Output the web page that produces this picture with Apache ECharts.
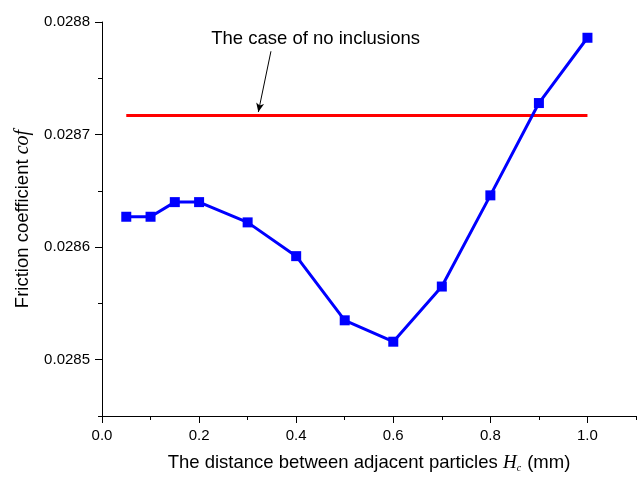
<!DOCTYPE html>
<html>
<head>
<meta charset="utf-8">
<script src="https://cdn.jsdelivr.net/npm/echarts@6/dist/echarts.min.js"></script>
<style>
html, body { margin: 0; padding: 0; background: #fff; }
#chart { width: 642px; height: 478px; }
</style>
</head>
<body>
<div id="chart"></div>
<script>
// Spacing between adjacent particles (mm) and the resulting friction coefficient
const distance = [0.05, 0.1, 0.15, 0.2, 0.3, 0.4, 0.5, 0.6, 0.7, 0.8, 0.9, 1.0];
const friction = [0.028627, 0.028627, 0.028640, 0.028640, 0.028622, 0.028592,
                  0.028535, 0.028516, 0.028565, 0.028646, 0.028728, 0.028786];

// Reference level: the same surface without inclusions
const noInclusionCof = 0.028717;
const noInclusionSpan = [0.05, 1.0];
const noInclusionText = 'The case of no inclusions';

// Tick positions
const xMajorTicks = [0, 0.2, 0.4, 0.6, 0.8, 1.0];
const xMinorTicks = [0.1, 0.3, 0.5, 0.7, 0.9, 1.1];
const yMajorTicks = [0.0285, 0.0286, 0.0287, 0.0288];
const yMinorTicks = [0.02845, 0.02855, 0.02865, 0.02875];

const FONT = '"Liberation Sans", Arial, sans-serif';
const SERIF = '"Liberation Serif", "Times New Roman", serif';
const INK = '#000';

const chart = echarts.init(document.getElementById('chart'), null, { renderer: 'canvas' });

const baseX = { type: 'value', min: 0, max: 1.1, gridIndex: 0, position: 'bottom', splitLine: { show: false } };
const baseY = { type: 'value', min: 0.02845, max: 0.0288, gridIndex: 0, position: 'left', splitLine: { show: false } };

chart.setOption({
  animation: false,
  backgroundColor: '#fff',
  textStyle: { fontFamily: FONT },
  grid: { left: 102, right: 6, top: 22, bottom: 61, containLabel: false },
  xAxis: [
    Object.assign({}, baseX, {
      axisLine: { show: true, lineStyle: { color: INK, width: 1 } },
      axisTick: { show: true, inside: false, length: 7, customValues: xMajorTicks, lineStyle: { color: INK } },
      axisLabel: {
        customValues: xMajorTicks, margin: 12, color: INK, fontSize: 15, fontFamily: FONT,
        formatter: v => v.toFixed(1)
      },
      name: '{n|The distance between adjacent particles }{i|H}{s|c}{n| (mm)}',
      nameLocation: 'middle',
      nameGap: 36,
      nameTextStyle: {
        color: INK,
        rich: {
          n: { fontFamily: FONT, fontSize: 18.5, color: INK },
          i: { fontFamily: SERIF, fontStyle: 'italic', fontSize: 19, color: INK },
          s: { fontFamily: SERIF, fontStyle: 'italic', fontSize: 10, color: INK, padding: [11, 1, 0, 0] }
        }
      }
    }),
    Object.assign({}, baseX, {
      axisLine: { show: false },
      axisTick: { show: true, inside: false, length: 4, customValues: xMinorTicks, lineStyle: { color: INK } },
      axisLabel: { show: false }
    })
  ],
  yAxis: [
    Object.assign({}, baseY, {
      axisLine: { show: true, lineStyle: { color: INK, width: 1 } },
      axisTick: { show: true, inside: false, length: 7, customValues: yMajorTicks, lineStyle: { color: INK } },
      axisLabel: {
        customValues: yMajorTicks, margin: 12, color: INK, fontSize: 15, fontFamily: FONT,
        formatter: v => v.toFixed(4)
      },
      name: '{n|Friction coefficient }{i|cof}',
      nameLocation: 'middle',
      nameRotate: 90,
      nameGap: 67,
      nameTextStyle: {
        color: INK,
        rich: {
          n: { fontFamily: FONT, fontSize: 18.5, color: INK },
          i: { fontFamily: SERIF, fontStyle: 'italic', fontSize: 20, color: INK }
        }
      }
    }),
    Object.assign({}, baseY, {
      axisLine: { show: false },
      axisTick: { show: true, inside: false, length: 4, customValues: yMinorTicks, lineStyle: { color: INK } },
      axisLabel: { show: false }
    })
  ],
  series: [
    {
      name: 'no inclusions',
      type: 'line',
      xAxisIndex: 0, yAxisIndex: 0,
      data: noInclusionSpan.map(x => [x, noInclusionCof]),
      symbol: 'none',
      lineStyle: { color: '#ff0000', width: 3 },
      z: 2,
      markLine: {
        silent: true,
        symbol: ['none', 'arrow'],
        symbolSize: [6, 9],
        lineStyle: { color: INK, width: 1, type: 'solid' },
        label: { show: false },
        data: [[{ coord: [0.348, 0.028774] }, { coord: [0.322, 0.028720] }]]
      },
      markPoint: {
        silent: true,
        symbol: 'rect',
        symbolSize: 0,
        label: {
          show: true, position: 'inside', color: INK, fontSize: 18.5, fontFamily: FONT,
          formatter: noInclusionText
        },
        data: [{ coord: [0.44, 0.028785] }]
      }
    },
    {
      name: 'cof',
      type: 'line',
      xAxisIndex: 0, yAxisIndex: 0,
      data: distance.map((d, i) => [d, friction[i]]),
      symbol: 'rect',
      symbolSize: 10,
      lineStyle: { color: '#0000ff', width: 3 },
      itemStyle: { color: '#0000ff' },
      z: 3
    }
  ]
});
</script>
</body>
</html>
